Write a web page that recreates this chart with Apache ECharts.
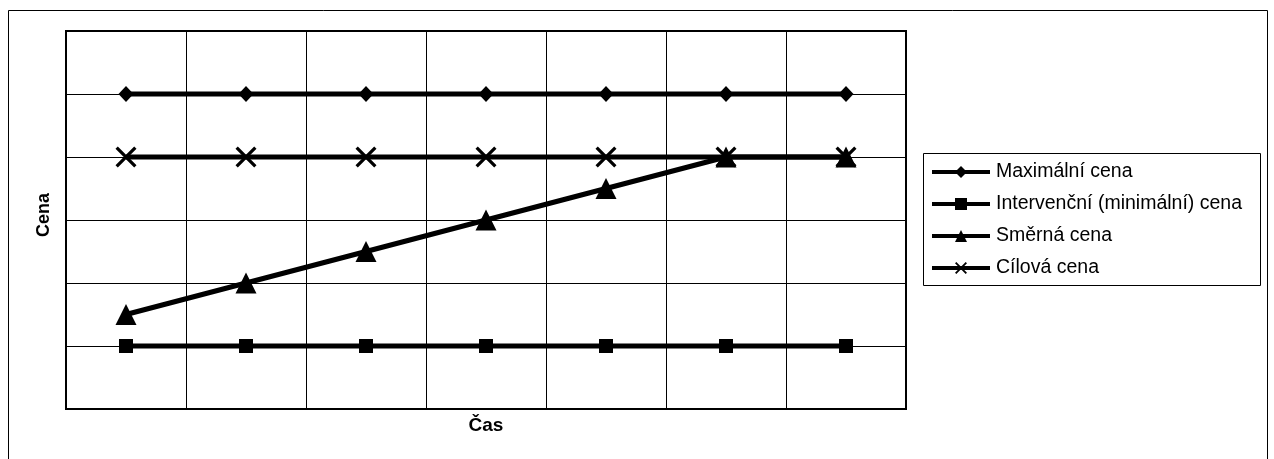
<!DOCTYPE html>
<html>
<head>
<meta charset="utf-8">
<script src="https://cdn.jsdelivr.net/npm/echarts@6/dist/echarts.min.js"></script>
<style>
html,body{margin:0;padding:0;background:#fff;}
#c{width:1274px;height:459px;}
</style>
</head>
<body>
<div id="c"></div>
<script>
const categories = ['1', '2', '3', '4', '5', '6', '7'];
const maxPrice = [5, 5, 5, 5, 5, 5, 5];
const interventionPrice = [1, 1, 1, 1, 1, 1, 1];
const guidePrice = [1.5, 2, 2.5, 3, 3.5, 4, 4];
const targetPrice = [4, 4, 4, 4, 4, 4, 4];
const seriesNames = ['Maximální cena', 'Intervenční (minimální) cena', 'Směrná cena', 'Cílová cena'];
const xName = 'Čas';
const yName = 'Cena';

const FONT = '"Liberation Sans", Arial, sans-serif';
const crossPath = 'path://M0,1.1 L1.1,0 L10,8.9 L8.9,10 Z M8.9,0 L10,1.1 L1.1,10 L0,8.9 Z';

function mk(name, data, symbol, size) {
  return {
    name: name,
    type: 'line',
    data: data,
    symbol: symbol,
    symbolSize: size,
    showSymbol: true,
    lineStyle: { color: '#000', width: 5 },
    itemStyle: { color: '#000', borderWidth: 0 },
    emphasis: { disabled: true },
    animation: false
  };
}

const chart = echarts.init(document.getElementById('c'), null, { renderer: 'canvas' });
chart.setOption({
  animation: false,
  backgroundColor: '#fff',
  textStyle: { fontFamily: FONT },
  graphic: [
    { type: 'rect', shape: { x: 8.5, y: 10.5, width: 1259, height: 470 }, style: { fill: 'none', stroke: '#000', lineWidth: 1 }, silent: true },
    { type: 'rect', shape: { x: 923.5, y: 153.5, width: 337, height: 132 }, style: { fill: 'none', stroke: '#000', lineWidth: 1 }, silent: true }
  ],
  legend: {
    orient: 'vertical',
    left: 930,
    top: 162,
    padding: 0,
    itemWidth: 58,
    itemHeight: 15,
    itemGap: 12,
    selectedMode: false,
    data: seriesNames,
    lineStyle: { width: 4, color: '#000' },
    textStyle: { fontFamily: FONT, fontSize: 19.5, color: '#000', padding: [0, 0, 0, 1] }
  },
  grid: {
    left: 66, top: 31, right: 368, bottom: 50,
    show: true, borderColor: '#000', borderWidth: 2, containLabel: false
  },
  xAxis: {
    type: 'category',
    data: categories,
    boundaryGap: true,
    name: xName,
    nameLocation: 'middle',
    nameGap: 7,
    nameTextStyle: { fontFamily: FONT, fontWeight: 'bold', fontSize: 19, color: '#000', verticalAlign: 'top' },
    axisLine: { show: true, lineStyle: { color: '#000', width: 2 } },
    axisTick: { show: false },
    axisLabel: { show: false },
    splitLine: { show: true, lineStyle: { color: '#000', width: 1 } }
  },
  yAxis: {
    type: 'value',
    min: 0, max: 6, interval: 1,
    name: yName,
    nameLocation: 'middle',
    nameRotate: 90,
    nameGap: 13,
    nameTextStyle: { fontFamily: FONT, fontWeight: 'bold', fontSize: 18, color: '#000', padding: [0, 0, 0, 10] },
    axisLine: { show: true, lineStyle: { color: '#000', width: 2 } },
    axisTick: { show: false },
    axisLabel: { show: false },
    splitLine: { show: true, lineStyle: { color: '#000', width: 1 } }
  },
  series: [
    mk(seriesNames[0], maxPrice, 'diamond', [15, 16]),
    mk(seriesNames[1], interventionPrice, 'rect', 14),
    mk(seriesNames[3], targetPrice, crossPath, 21),
    mk(seriesNames[2], guidePrice, 'triangle', 21)
  ]
});
</script>
</body>
</html>
